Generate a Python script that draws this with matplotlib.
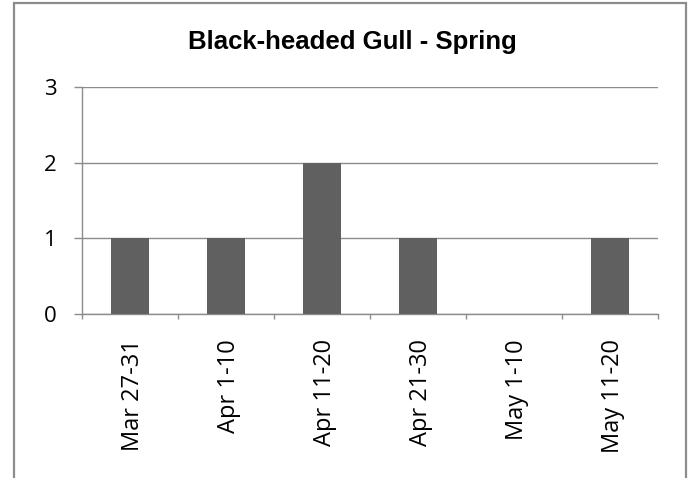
import matplotlib
matplotlib.use("Agg")
import matplotlib.pyplot as plt
import matplotlib.transforms as mtransforms
from matplotlib.patches import Rectangle

# data
periods = ["Mar 27-31", "Apr 1-10", "Apr 11-20", "Apr 21-30", "May 1-10", "May 11-20"]
counts = [1, 1, 2, 1, 0, 1]
yticks = [0, 1, 2, 3]

W, H = 691, 478
fig = plt.figure(figsize=(W / 100, H / 100), dpi=100)

# outer chart border (runs off the bottom of the image)
fig.patches.append(Rectangle((14 / W, -0.05), (686 - 14) / W, 1.05 - 3 / H,
                             transform=fig.transFigure, fill=False,
                             edgecolor="#8c8c8c", linewidth=1.6))

ax = fig.add_axes([82 / W, 1 - 314 / H, (658 - 82) / W, (314 - 87) / H])

x = list(range(len(periods)))
ax.bar(x, counts, width=0.4, color="#606060", zorder=3)

ax.set_xlim(-0.5, len(periods) - 0.5)
ax.set_ylim(0, 3)
ax.set_yticks(yticks)
ax.set_yticklabels([str(v) for v in yticks], fontsize=16, family="Open Sans")
ax.yaxis.grid(True, color="#8c8c8c", linewidth=1)
ax.set_axisbelow(True)

# category labels between boundary ticks
ax.set_xticks([i - 0.5 for i in range(len(periods) + 1)])
ax.set_xticklabels([])
ax.set_xticks(x, minor=True)
ax.set_xticklabels(periods, minor=True, rotation=90, fontsize=17, family="Open Sans")
ax.tick_params(axis="x", which="minor", length=0, pad=18)
ax.tick_params(axis="x", which="major", length=3.6, color="#8c8c8c", width=1)
ax.tick_params(axis="y", length=6, color="#8c8c8c", width=1, pad=12)

# nudge the rotated labels slightly right, like the reference
shift = mtransforms.ScaledTranslation(3 / 100, 0, fig.dpi_scale_trans)
for lab in ax.get_xticklabels(minor=True):
    lab.set_transform(lab.get_transform() + shift)

for s in ["top", "right"]:
    ax.spines[s].set_visible(False)
for s in ["left", "bottom"]:
    ax.spines[s].set_color("#8c8c8c")
    ax.spines[s].set_linewidth(1)

fig.text(352 / W, 1 - 49 / H, "Black-headed Gull - Spring", ha="center", va="baseline",
         fontsize=18.5, fontweight="bold", family="Liberation Sans")

fig.savefig("out.png", dpi=100)
